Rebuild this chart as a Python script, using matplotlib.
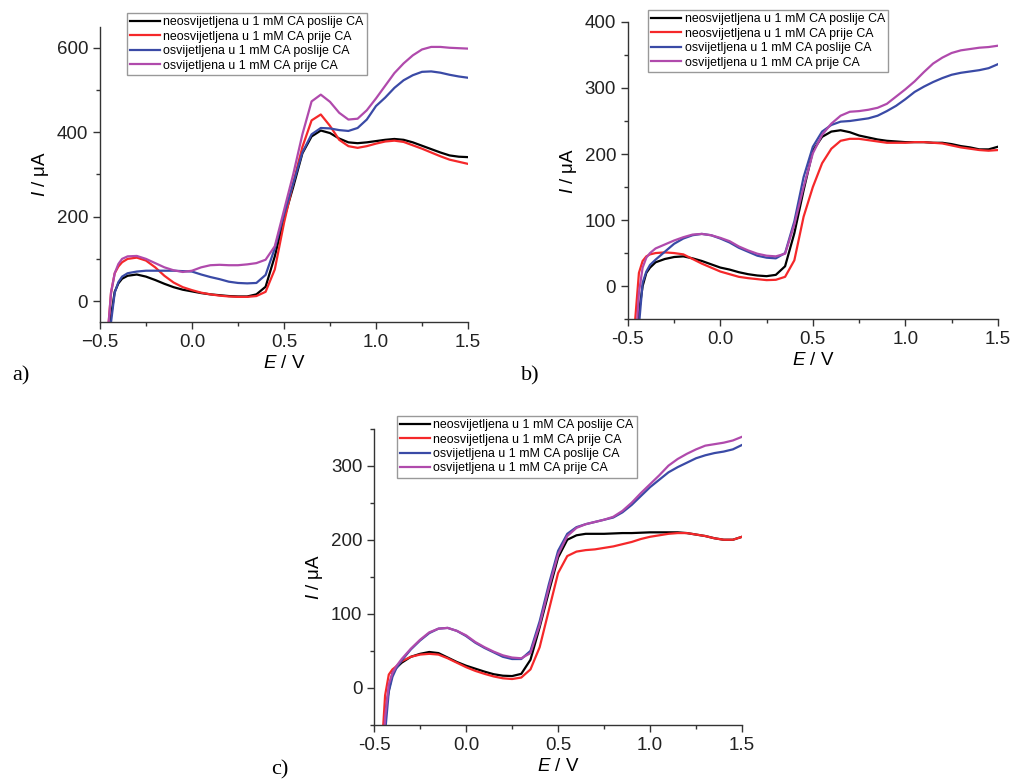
import matplotlib
matplotlib.use("Agg")
import matplotlib.pyplot as plt
from matplotlib.ticker import MultipleLocator

plt.rcParams['font.family'] = ['Liberation Sans', 'DejaVu Sans']
plt.rcParams['mathtext.fontset'] = 'custom'
plt.rcParams['mathtext.it'] = 'Liberation Sans:italic'
plt.rcParams['mathtext.rm'] = 'Liberation Sans'

# potential grid (V), same for every curve
E = [-0.46, -0.44, -0.42, -0.40, -0.38, -0.35, -0.30, -0.25, -0.20, -0.15,
     -0.10, -0.05, 0.00, 0.05, 0.10, 0.15, 0.20, 0.25, 0.30, 0.35,
     0.40, 0.45, 0.50, 0.55, 0.60, 0.65, 0.70, 0.75, 0.80, 0.85,
     0.90, 0.95, 1.00, 1.05, 1.10, 1.15, 1.20, 1.25, 1.30, 1.35,
     1.40, 1.45, 1.50]

labels = ['neosvijetljena u 1 mM CA poslije CA',
          'neosvijetljena u 1 mM CA prije CA',
          'osvijetljena u 1 mM CA poslije CA',
          'osvijetljena u 1 mM CA prije CA']
colors = ['#000000', '#f5282a', '#3a4aa6', '#b04aac']

# panel a) currents (uA)
a_black = [-120, -35, 22, 42, 53, 60, 63, 58, 50, 41,
           33, 27, 23, 19, 16, 14, 12, 11, 11, 16,
           34, 106, 195, 270, 350, 390, 404, 398, 385, 376,
           374, 376, 379, 382, 384, 382, 376, 368, 360, 352,
           345, 342, 341]
a_red = [-90, 20, 66, 82, 92, 100, 103, 96, 80, 60,
         44, 33, 26, 20, 16, 13, 11, 10, 10, 12,
         22, 75, 185, 280, 365, 428, 442, 415, 382, 367,
         363, 367, 373, 378, 380, 377, 369, 361, 352, 343,
         335, 330, 325]
a_blue = [-150, -50, 20, 45, 58, 66, 70, 72, 72, 72,
          72, 71, 70, 63, 57, 52, 46, 43, 42, 43,
          62, 125, 205, 278, 352, 395, 410, 409, 405, 403,
          410, 430, 462, 482, 505, 523, 535, 543, 544, 541,
          536, 532, 529]
a_mag = [-90, 20, 66, 88, 100, 106, 107, 100, 90, 80,
         73, 69, 72, 80, 85, 86, 85, 85, 87, 90,
         98, 130, 215, 300, 395, 473, 489, 472, 446, 430,
         432, 452, 480, 510, 540, 563, 582, 596, 602, 602,
         600, 599, 598]

# panel b)
b_black = [-120, -40, 0, 20, 28, 36, 41, 44, 45, 42,
           38, 33, 28, 25, 21, 18, 16, 15, 17, 30,
           80, 145, 205, 226, 234, 236, 233, 228, 225, 222,
           220, 219, 218, 218, 218, 217, 217, 215, 212, 210,
           207, 207, 211]
b_red = [-50, 20, 38, 45, 48, 50, 51, 50, 48, 41,
         34, 28, 22, 18, 14, 12, 10.5, 9, 9.5, 14,
         39, 105, 150, 186, 208, 220, 223, 223, 221, 219,
         217, 217, 217, 218, 218, 217, 216, 213, 210, 208,
         206, 205, 206]
b_blue = [-160, -60, 5, 22, 32, 40, 52, 64, 72, 77,
          79, 77, 72, 66, 58, 52, 46, 43, 42, 50,
          98, 165, 211, 234, 244, 249, 250, 252, 254, 258,
          265, 273, 283, 294, 302, 309, 315, 320, 323, 325,
          327, 330, 336]
b_mag = [-100, -10, 28, 43, 50, 57, 63, 69, 74, 78,
         79, 77, 73, 68, 60, 54, 49, 46, 45, 49,
         93, 150, 201, 229, 246, 258, 264, 265, 267, 270,
         276, 287, 298, 310, 324, 337, 346, 353, 357, 359,
         361, 362, 364]

# panel c)
c_black = [-120, -35, -3, 20, 27, 34, 42, 46, 48.5, 47,
           41, 35, 30, 26, 22, 18.5, 16.5, 16, 19, 38,
           82, 130, 176, 200, 206, 208, 208, 208, 208.5, 209,
           209, 209.5, 210, 210, 210, 210, 209, 207, 205, 202,
           200, 200, 204]
c_red = [-90, -10, 18, 25, 29, 36, 42, 45, 46, 45,
         40, 34, 28, 23, 19, 15.5, 13, 12, 14, 25,
         55, 105, 155, 178, 184, 186, 187, 189, 191, 194,
         197, 201, 204, 206, 208, 209, 209, 207, 205, 202,
         200, 200, 204]
c_blue = [-160, -60, -5, 15, 26, 37, 52, 64, 74, 80,
          81, 77, 70, 61, 54, 48, 42, 39, 39, 50,
          90, 140, 185, 208, 217, 221, 224, 227, 230, 237,
          247, 259, 271, 281, 291, 298, 304, 310, 314, 317,
          319, 322, 328]
c_mag = [-130, -40, 5, 20, 29, 39, 53, 65, 75, 80,
         81, 77, 71, 62, 55, 49, 44, 41, 40, 47,
         85, 135, 180, 205, 216, 221, 224, 227, 231, 239,
         250, 263, 275, 287, 300, 309, 316, 322, 327, 329,
         331, 334, 339]

x_ticks = [-0.5, 0.0, 0.5, 1.0, 1.5]
x_labels_a = ['\u22120.5', '0.0', '0.5', '1.0', '1.5']
x_labels_bc = ['-0.5', '0.0', '0.5', '1.0', '1.5']

panels = [
    dict(rect=[0.0989, 0.589, 0.364, 0.377], data=[a_black, a_red, a_blue, a_mag],
         ylim=(-50, 650), major=200, minor=100, xlabels=x_labels_a,
         leg=(0.1256, 0.9834), tag='a)', tagpos=(0.012, 0.515)),
    dict(rect=[0.621, 0.593, 0.366, 0.379], data=[b_black, b_red, b_blue, b_mag],
         ylim=(-50, 400), major=100, minor=50, xlabels=x_labels_bc,
         leg=(0.641, 0.9872), tag='b)', tagpos=(0.515, 0.515)),
    dict(rect=[0.370, 0.0753, 0.364, 0.378], data=[c_black, c_red, c_blue, c_mag],
         ylim=(-50, 350), major=100, minor=50, xlabels=x_labels_bc,
         leg=(0.3927, 0.4694), tag='c)', tagpos=(0.268, 0.012)),
]

fig = plt.figure(figsize=(10.11, 7.84), dpi=100)

for p in panels:
    ax = fig.add_axes(p['rect'])
    for ys, c, lab in zip(p['data'], colors, labels):
        ax.plot(E, ys, color=c, lw=1.6, label=lab, solid_joinstyle='round')
    ax.set_xlim(-0.5, 1.5)
    ax.set_ylim(*p['ylim'])
    ax.spines['top'].set_visible(False)
    ax.spines['right'].set_visible(False)
    for s in ['left', 'bottom']:
        ax.spines[s].set_color('#333333')
        ax.spines[s].set_linewidth(1.0)
    ax.set_xticks(x_ticks)
    ax.set_xticklabels(p['xlabels'])
    ax.xaxis.set_minor_locator(MultipleLocator(0.25))
    ax.yaxis.set_major_locator(MultipleLocator(p['major']))
    ax.yaxis.set_minor_locator(MultipleLocator(p['minor']))
    ax.tick_params(which='major', direction='out', length=5, width=1,
                   labelsize=13.5, color='#333333', labelcolor='#222222')
    ax.tick_params(which='minor', direction='out', length=3, width=1,
                   color='#333333')
    ax.set_xlabel(r'$\mathit{E}$ / V', fontsize=13.5, labelpad=3)
    ax.set_ylabel(r'$\mathit{I}$ / $\mathrm{\mu}$A', fontsize=13.5)
    leg = ax.legend(loc='upper left', bbox_to_anchor=p['leg'],
                    bbox_transform=fig.transFigure, fontsize=8.9,
                    frameon=True, fancybox=False, framealpha=1,
                    edgecolor='#999999', borderpad=0.25, labelspacing=0.2,
                    handlelength=2.4, handletextpad=0.3, borderaxespad=0)
    leg.get_frame().set_linewidth(1.0)
    fig.text(p['tagpos'][0], p['tagpos'][1], p['tag'], fontsize=16,
             family='Liberation Serif')

fig.savefig('out.png', dpi=100)
